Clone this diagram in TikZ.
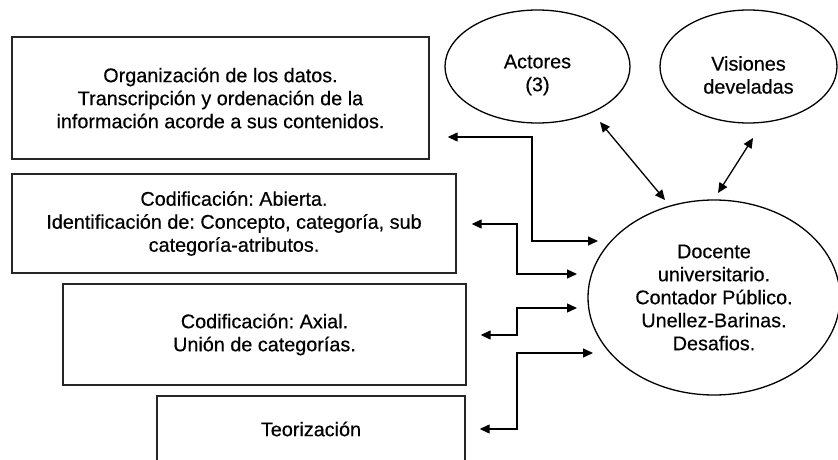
\documentclass[tikz,border=0pt]{standalone}
\usepackage{fontspec}
\setmainfont[FakeBold=0.4]{Liberation Sans}
\frenchspacing
\usetikzlibrary{shapes.geometric,arrows.meta}
\begin{document}
\begin{tikzpicture}[x=1pt,y=-1pt,
  every node/.style={font=\fontsize{19.8}{23}\selectfont, align=center, inner sep=0pt},
  boxnode/.style={draw=black!85, line width=1.4pt, rectangle},
  ellnode/.style={draw=black, line width=1.3pt, ellipse},
  biarrow/.style={line width=1.3pt, {Triangle[length=10pt,width=9pt]}-{Triangle[length=10pt,width=9pt]}}
]
\clip (0,0) rectangle (838,460);
\fill[white] (0,0) rectangle (838,460);
% boxes
\node[boxnode, minimum width=417, minimum height=122] (b1) at (220.5,98)
  {Organización de los datos.\\Transcripción y ordenación de la\\información acorde a sus contenidos.};
\node[boxnode, minimum width=444, minimum height=99] (b2) at (234,223.5)
  {Codificación: Abierta.\\Identificación de: Concepto, categoría, sub\\categoría-atributos.};
\node[boxnode, minimum width=403, minimum height=101] (b3) at (264.5,334.5)
  {Codificación: Axial.\\Unión de categorías.};
\node[boxnode, minimum width=308, minimum height=66] (b4) at (311,429)
  {Teorización};
% ellipses
\node[ellnode, minimum width=185, minimum height=113] (act) at (537.5,66.5) {};
\node (actl) at (537.5,75) {Actores\\(3)};
\node[ellnode, minimum width=177, minimum height=113] (vis) at (748.5,66.5) {};
\node (visl) at (748.5,75) {Visiones\\develadas};
\node[ellnode, minimum width=252, minimum height=195] (doc) at (714,297.5)
  {Docente\\universitario.\\Contador Público.\\Unellez-Barinas.\\Desafios.};
% connector end points near the ellipse
\coordinate (t1) at (598,241);
\coordinate (t2) at (577,274);
\coordinate (t3) at (577,308);
\coordinate (t4) at (593,353);
\coordinate (ta1) at (600,122);
\coordinate (ta2) at (665,200);
\coordinate (tv1) at (753,138);
\coordinate (tv2) at (718,193);
% connectors
\draw[biarrow, shorten <=18pt] (b1.east |- 0,137) -- (532,137) -- (532,241) -- (t1);
\draw[biarrow, shorten <=15pt] (b2.east |- 0,224) -- (517,224) -- (517,274) -- (t2);
\draw[biarrow, shorten <=14pt] (b3.east |- 0,335) -- (517,335) -- (517,308) -- (t3);
\draw[biarrow, shorten <=14pt] (b4.east |- 0,429) -- (517,429) -- (517,353) -- (t4);
\draw[biarrow] (ta1) -- (ta2);
\draw[biarrow] (tv1) -- (tv2);
\end{tikzpicture}
\end{document}
